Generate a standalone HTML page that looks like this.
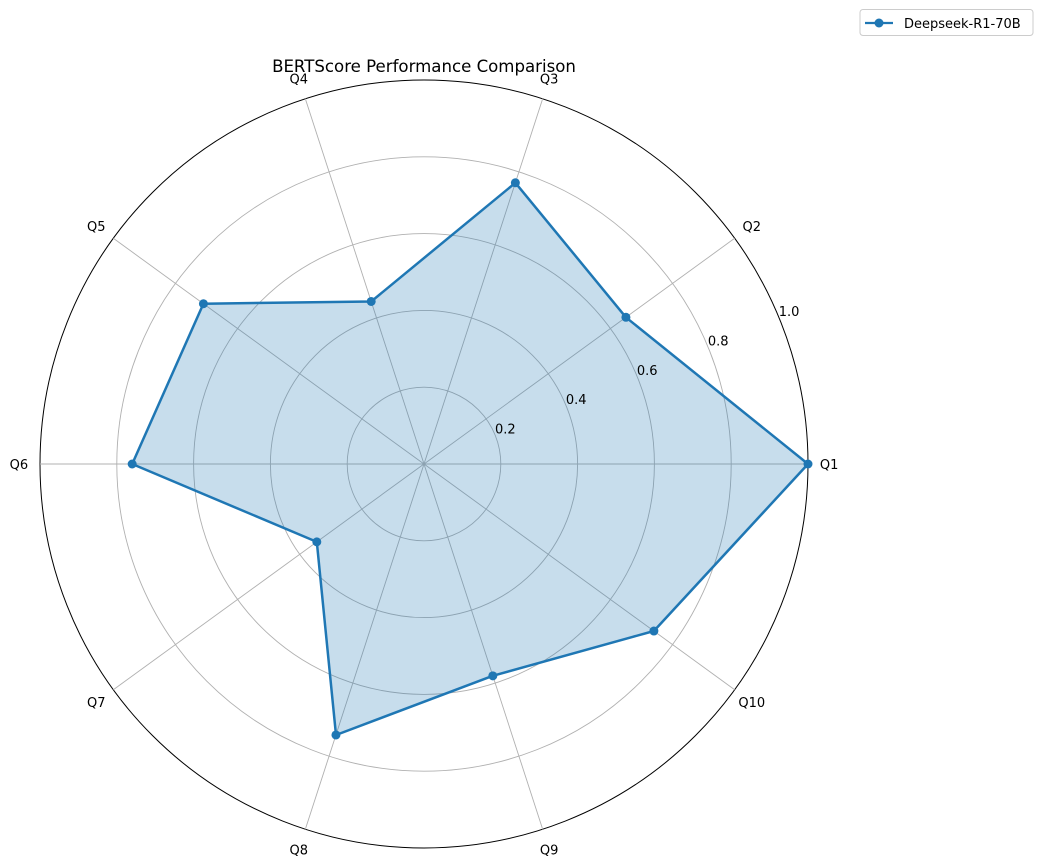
<!DOCTYPE html>
<html><head><meta charset="utf-8"><style>
body{margin:0;background:#fff;}
svg{display:block;font-family:"DejaVu Sans","Liberation Sans",sans-serif;}
</style></head><body>
<svg id="chart" width="1043" height="866">
<text x="424" y="72" text-anchor="middle" font-size="16.6">BERTScore Performance Comparison</text>
<g id="grid"></g>
<g id="series"></g>
<g id="labels"></g>
<g>
<rect x="860" y="9.5" width="173" height="26" rx="3" fill="#fff" stroke="#ccc"/>
<line x1="865" y1="23" x2="893" y2="23" stroke="#1f77b4" stroke-width="2.2"/>
<circle cx="879" cy="23" r="4.5" fill="#1f77b4"/>
<text x="904" y="28" font-size="13">Deepseek-R1-70B</text>
</g>
</svg>
<script>
const categories=["Q1","Q2","Q3","Q4","Q5","Q6","Q7","Q8","Q9","Q10"];
const values=[1.0,0.65,0.77,0.445,0.71,0.76,0.345,0.742,0.58,0.74];
const rTicks=[0.2,0.4,0.6,0.8,1.0];
const rTickLabels=["0.2","0.4","0.6","0.8","1.0"];
const NS="http://www.w3.org/2000/svg";
const cx=424,cy=464,R=384;
function rs(v){return v*R;}
function ang(i){return i*2*Math.PI/categories.length;}
function pt(i,v){const a=ang(i);return [cx+rs(v)*Math.cos(a),cy-rs(v)*Math.sin(a)];}
function mk(tag,attrs,parent){const e=document.createElementNS(NS,tag);for(const k in attrs)e.setAttribute(k,attrs[k]);parent.appendChild(e);return e;}
const grid=document.getElementById('grid'),ser=document.getElementById('series'),lab=document.getElementById('labels');
rTicks.forEach((t,i)=>{
  const c=mk('circle',{cx:cx,cy:cy,r:rs(t),fill:'none',stroke:t===1?'#000':'#b0b0b0','stroke-width':t===1?1:0.9},grid);
  
  
});
categories.forEach((c,i)=>{
  const p=pt(i,1);
  const l=mk('line',{x1:cx,y1:cy,x2:p[0],y2:p[1],stroke:'#b0b0b0','stroke-width':0.9},grid);
  
  
  const q=pt(i,1.055);
  const t=mk('text',{x:q[0],y:q[1]+5,'text-anchor':'middle','font-size':13},lab);
  t.textContent=c;
  
  
});
const ta=22.5*Math.PI/180;
rTicks.forEach((t,i)=>{
  const x=cx+rs(t)*Math.cos(ta),y=cy-rs(t)*Math.sin(ta);
  const e=mk('text',{x:x,y:y-1,'font-size':13},lab);
  e.textContent=rTickLabels[i];
  
  
});
const pts=values.map((v,i)=>pt(i,v));
const d=pts.map(p=>p[0].toFixed(1)+','+p[1].toFixed(1)).join(' ');
const poly=mk('polygon',{points:d,fill:'#1f77b4','fill-opacity':0.25,stroke:'#1f77b4','stroke-width':2.5,'stroke-linejoin':'round'},ser);


pts.forEach((p,i)=>{
  const c=mk('circle',{cx:p[0],cy:p[1],r:4.5,fill:'#1f77b4'},ser);
  
  
});
</script>
</body></html>
